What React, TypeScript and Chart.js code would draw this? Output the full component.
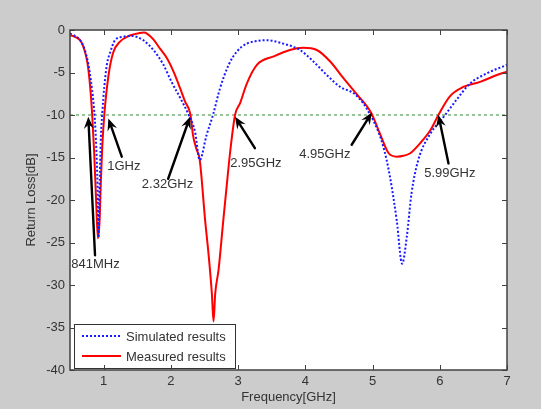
import React, { useEffect, useRef } from 'react';
import { Chart, registerables } from 'chart.js';

Chart.register(...registerables);

// Simulated results (dotted blue)
const simFreq = [0.5, 0.65, 0.72, 0.77, 0.81, 0.85, 0.87, 0.89, 0.91, 0.925, 0.946, 0.96, 0.98, 1.01, 1.05, 1.095, 1.17, 1.29, 1.42, 1.59, 1.74, 1.89, 2.01, 2.14, 2.26, 2.36, 2.43, 2.53, 2.63, 2.73, 2.86, 2.98, 3.13, 3.28, 3.43, 3.67, 3.92, 4.12, 4.32, 4.52, 4.72, 4.86, 4.96, 5.01, 5.16, 5.26, 5.36, 5.44, 5.51, 5.58, 5.68, 5.86, 6.06, 6.25, 6.45, 6.7, 7.0];
const simLoss = [-0.4, -1.2, -2.35, -3.9, -5.9, -8.6, -10.6, -13.7, -18.4, -24.4, -16.5, -12.5, -9.8, -6.7, -4.0, -2.7, -1.2, -0.8, -0.7, -1.2, -2.35, -4.1, -6.1, -8.0, -9.9, -12.0, -15.3, -12.4, -9.9, -6.9, -4.1, -2.55, -1.6, -1.3, -1.2, -1.6, -2.35, -3.7, -5.3, -6.7, -7.45, -8.6, -9.9, -10.6, -13.7, -17.3, -22.4, -27.5, -24.3, -19.2, -15.3, -12.2, -10.2, -8.2, -6.3, -5.1, -4.1];

// Measured results (solid red)
const measFreq = [0.5, 0.6, 0.65, 0.7, 0.76, 0.8, 0.83, 0.86, 0.89, 0.915, 0.94, 0.96, 0.98, 1.01, 1.07, 1.14, 1.24, 1.39, 1.54, 1.6, 1.65, 1.74, 1.84, 1.94, 2.04, 2.14, 2.21, 2.29, 2.33, 2.38, 2.43, 2.51, 2.56, 2.61, 2.635, 2.66, 2.71, 2.78, 2.83, 2.88, 2.955, 3.03, 3.13, 3.28, 3.53, 3.77, 3.97, 4.17, 4.37, 4.57, 4.77, 4.92, 4.99, 5.11, 5.24, 5.36, 5.46, 5.56, 5.71, 5.86, 5.98, 6.15, 6.35, 6.6, 6.85, 7.0];
const measLoss = [-0.6, -0.9, -1.2, -2.0, -3.9, -6.7, -10.0, -14.5, -20.4, -24.5, -22.4, -17.6, -13.7, -10.0, -5.5, -2.7, -1.4, -0.65, -0.35, -0.3, -0.45, -1.1, -2.2, -3.3, -4.9, -6.9, -8.4, -9.9, -12.4, -14.0, -15.3, -22.4, -26.3, -31.0, -34.3, -31.0, -28.2, -22.4, -18.4, -14.5, -10.0, -8.6, -6.3, -4.1, -3.1, -2.35, -2.1, -2.35, -3.7, -5.7, -7.6, -9.0, -9.9, -12.2, -14.5, -14.9, -14.8, -14.5, -13.3, -11.8, -10.0, -7.8, -6.7, -6.1, -5.3, -4.9];

const thresholdLoss = -10;
const xMin = 0.5;
const xMax = 7;
const yMin = -40;
const yMax = 0;
const xTickValues = [1, 2, 3, 4, 5, 6, 7];
const yTickValues = [0, -5, -10, -15, -20, -25, -30, -35, -40];

const seriesLabels = ['Simulated results', 'Measured results'];
const xTitle = 'Frequency[GHz]';
const yTitle = 'Return Loss[dB]';

// Annotations (data coordinates)
const annotationTexts = ['841MHz', '1GHz', '2.32GHz', '2.95GHz', '4.95GHz', '5.99GHz'];
const annotationTipFreq = [0.772, 1.07, 2.286, 2.955, 4.99, 5.98];
const annotationTipLoss = [-10.2, -10.4, -10.2, -10.2, -9.7, -10.0];
const annotationTailFreq = [0.872, 1.27, 1.96, 3.25, 4.69, 6.13];
const annotationTailLoss = [-26.5, -14.9, -17.5, -13.9, -13.5, -15.7];
const annotationTextFreq = [0.88, 1.3, 1.95, 3.265, 4.29, 6.15];
const annotationTextLoss = [-27.6, -16.1, -18.15, -15.7, -14.6, -16.9];

const FONT = '"Liberation Sans", Arial, sans-serif';
const TEXT_COLOR = '#333333';

const decorPlugin = {
  id: 'decor',
  beforeDraw(chart: any) {
    const { ctx, width, height, chartArea: a } = chart;
    ctx.save();
    ctx.fillStyle = '#cccccc';
    ctx.fillRect(0, 0, width, height);
    ctx.fillStyle = '#ffffff';
    ctx.fillRect(a.left, a.top, a.right - a.left, a.bottom - a.top);
    ctx.restore();
  },
  afterDatasetsDraw(chart: any) {
    const { ctx, chartArea: a } = chart;
    const xs = chart.scales.x;
    const ys = chart.scales.y;
    ctx.save();

    // arrows
    ctx.strokeStyle = '#000000';
    ctx.fillStyle = '#000000';
    ctx.lineWidth = 2.4;
    ctx.lineCap = 'round';
    for (let i = 0; i < annotationTexts.length; i++) {
      const tx = xs.getPixelForValue(annotationTipFreq[i]);
      const ty = ys.getPixelForValue(annotationTipLoss[i]);
      const sx = xs.getPixelForValue(annotationTailFreq[i]);
      const sy = ys.getPixelForValue(annotationTailLoss[i]);
      const ang = Math.atan2(ty - sy, tx - sx);
      const ux = Math.cos(ang);
      const uy = Math.sin(ang);
      const px = -uy;
      const py = ux;
      const headLen = 12;
      const headW = 5;
      ctx.beginPath();
      ctx.moveTo(sx, sy);
      ctx.lineTo(tx - ux * headLen * 0.6, ty - uy * headLen * 0.6);
      ctx.stroke();
      ctx.beginPath();
      ctx.moveTo(tx, ty);
      ctx.lineTo(tx - ux * headLen + px * headW, ty - uy * headLen + py * headW);
      ctx.lineTo(tx - ux * headLen * 0.65, ty - uy * headLen * 0.65);
      ctx.lineTo(tx - ux * headLen - px * headW, ty - uy * headLen - py * headW);
      ctx.closePath();
      ctx.fill();
    }

    // annotation texts
    ctx.fillStyle = TEXT_COLOR;
    ctx.font = `13px ${FONT}`;
    ctx.textAlign = 'center';
    ctx.textBaseline = 'middle';
    for (let i = 0; i < annotationTexts.length; i++) {
      ctx.fillText(
        annotationTexts[i],
        xs.getPixelForValue(annotationTextFreq[i]),
        ys.getPixelForValue(annotationTextLoss[i])
      );
    }

    // legend
    const lx = a.left + 4;
    const lw = 161;
    const lh = 44;
    const ly = a.bottom - 2 - lh;
    ctx.fillStyle = '#ffffff';
    ctx.fillRect(lx, ly, lw, lh);
    ctx.strokeStyle = '#333333';
    ctx.lineWidth = 1;
    ctx.strokeRect(lx + 0.5, ly + 0.5, lw, lh);
    const ds = chart.data.datasets;
    const rows = [ly + 12, ly + 32];
    for (let i = 0; i < 2; i++) {
      ctx.save();
      ctx.strokeStyle = ds[i].borderColor;
      ctx.lineWidth = ds[i].borderWidth;
      ctx.lineCap = 'butt';
      ctx.setLineDash(ds[i].borderDash || []);
      ctx.beginPath();
      ctx.moveTo(lx + 8, rows[i]);
      ctx.lineTo(lx + 47, rows[i]);
      ctx.stroke();
      ctx.restore();
      ctx.fillStyle = TEXT_COLOR;
      ctx.textAlign = 'left';
      ctx.textBaseline = 'middle';
      ctx.font = `13px ${FONT}`;
      ctx.fillText(ds[i].label, lx + 52, rows[i] + 1);
    }

    // frame + inner ticks
    ctx.strokeStyle = '#404040';
    ctx.lineWidth = 1.5;
    ctx.lineCap = 'butt';
    ctx.setLineDash([]);
    ctx.strokeRect(a.left, a.top, a.right - a.left, a.bottom - a.top);
    ctx.lineWidth = 1;
    ctx.beginPath();
    for (const v of xTickValues) {
      const p = Math.round(xs.getPixelForValue(v)) + 0.5;
      ctx.moveTo(p, a.bottom);
      ctx.lineTo(p, a.bottom - 5);
      ctx.moveTo(p, a.top);
      ctx.lineTo(p, a.top + 5);
    }
    for (const v of yTickValues) {
      const p = Math.round(ys.getPixelForValue(v)) + 0.5;
      ctx.moveTo(a.left, p);
      ctx.lineTo(a.left + 5, p);
      ctx.moveTo(a.right, p);
      ctx.lineTo(a.right - 5, p);
    }
    ctx.stroke();
    ctx.restore();
  },
};

export default function App() {
  const canvasRef = useRef<HTMLCanvasElement | null>(null);

  useEffect(() => {
    document.body.style.margin = '0';
    const canvas = canvasRef.current;
    if (!canvas) return;
    const chart = new Chart(canvas, {
      type: 'line',
      data: {
        datasets: [
          {
            label: seriesLabels[0],
            data: simFreq.map((f, i) => ({ x: f, y: simLoss[i] })),
            borderColor: '#1a1aff',
            borderWidth: 2,
            borderDash: [2, 2],
            pointRadius: 0,
            cubicInterpolationMode: 'monotone',
            fill: false,
          },
          {
            label: seriesLabels[1],
            data: measFreq.map((f, i) => ({ x: f, y: measLoss[i] })),
            borderColor: '#ff0000',
            borderWidth: 2,
            pointRadius: 0,
            cubicInterpolationMode: 'monotone',
            fill: false,
          },
          {
            label: 'threshold',
            data: [
              { x: xMin, y: thresholdLoss },
              { x: xMax, y: thresholdLoss },
            ],
            borderColor: '#2e8b2e',
            borderWidth: 1,
            borderDash: [3, 3],
            pointRadius: 0,
            fill: false,
          },
        ],
      },
      options: {
        responsive: false,
        animation: false,
        devicePixelRatio: 1,
        layout: { padding: { left: 0, right: 34, top: 30, bottom: 0 } },
        plugins: {
          legend: { display: false },
          tooltip: { enabled: false },
        },
        scales: {
          x: {
            type: 'linear',
            min: xMin,
            max: xMax,
            afterBuildTicks: (s: any) => {
              s.ticks = xTickValues.map((v) => ({ value: v }));
            },
            afterFit: (s: any) => {
              s.height = 39;
            },
            grid: { display: false, drawTicks: false },
            border: { display: false },
            ticks: {
              color: TEXT_COLOR,
              font: { family: FONT, size: 13 },
              padding: 4,
              maxRotation: 0,
              autoSkip: false,
            },
            title: {
              display: true,
              text: xTitle,
              color: TEXT_COLOR,
              font: { family: FONT, size: 13 },
              padding: { top: 0, bottom: 4 },
            },
          },
          y: {
            type: 'linear',
            min: yMin,
            max: yMax,
            afterBuildTicks: (s: any) => {
              s.ticks = yTickValues.map((v) => ({ value: v }));
            },
            afterFit: (s: any) => {
              s.width = 70;
            },
            grid: { display: false, drawTicks: false },
            border: { display: false },
            ticks: {
              color: TEXT_COLOR,
              font: { family: FONT, size: 13 },
              padding: 5,
              autoSkip: false,
            },
            title: {
              display: true,
              text: yTitle,
              color: TEXT_COLOR,
              font: { family: FONT, size: 13 },
              padding: { top: 24, bottom: 0 },
            },
          },
        },
      },
      plugins: [decorPlugin],
    } as any);
    return () => chart.destroy();
  }, []);

  return (
    <div style={{ width: 541, height: 409 }}>
      <canvas ref={canvasRef} width={541} height={409} style={{ display: 'block' }} />
    </div>
  );
}
